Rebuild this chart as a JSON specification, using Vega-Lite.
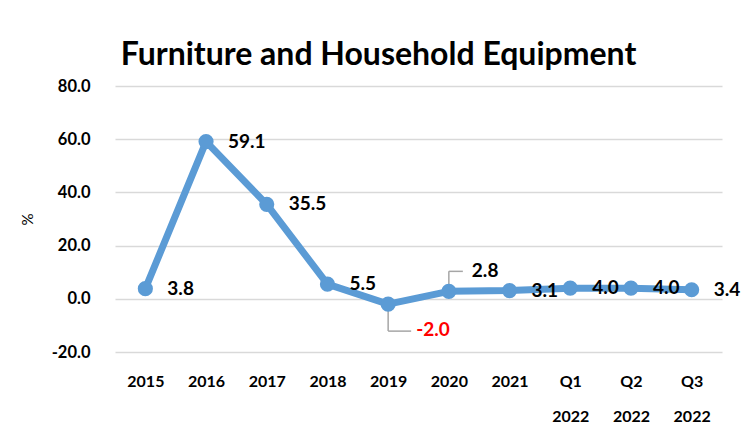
{
  "$schema": "https://vega.github.io/schema/vega-lite/v6.json",
  "autosize": {"type": "none"},
  "width": 607,
  "height": 266,
  "padding": {"left": 115, "top": 86, "right": 29, "bottom": 83},
  "background": "white",
  "title": {
    "text": "Furniture and Household Equipment",
    "font": "Lato",
    "fontSize": 32,
    "fontWeight": "bold",
    "color": "black",
    "anchor": "middle",
    "frame": "group",
    "dx": -40,
    "baseline": "alphabetic",
    "offset": -19
  },
  "data": {
    "values": [
      {"period": "2015", "value": 3.8},
      {"period": "2016", "value": 59.1},
      {"period": "2017", "value": 35.5},
      {"period": "2018", "value": 5.5},
      {"period": "2019", "value": -2.0},
      {"period": "2020", "value": 2.8},
      {"period": "2021", "value": 3.1},
      {"period": "Q1|2022", "value": 4.0},
      {"period": "Q2|2022", "value": 4.0},
      {"period": "Q3|2022", "value": 3.4}
    ]
  },
  "encoding": {
    "x": {
      "field": "period",
      "type": "ordinal",
      "sort": null,
      "scale": {"type": "point", "padding": 0.5, "domain": ["2015", "2016", "2017", "2018", "2019", "2020", "2021", "Q1|2022", "Q2|2022", "Q3|2022"]},
      "axis": {
        "title": null,
        "labelAngle": 0,
        "domain": false,
        "ticks": false,
        "grid": false,
        "labelPadding": 21,
        "labelFont": "Lato",
        "labelFontSize": 16,
        "labelFontWeight": "bold",
        "labelColor": "black",
        "labelLineHeight": 35,
        "labelExpr": "split(datum.label, '|')"
      }
    },
    "y": {
      "field": "value",
      "type": "quantitative",
      "scale": {"domain": [-20, 80], "nice": false, "zero": false},
      "axis": {
        "title": "%",
        "values": [-20, 0, 20, 40, 60, 80],
        "format": ".1f",
        "domain": false,
        "ticks": false,
        "labelPadding": 25,
        "labelFont": "Lato",
        "labelFontSize": 16.5,
        "labelFontWeight": "bold",
        "labelColor": "black",
        "gridColor": "#D9D9D9",
        "gridWidth": 1.5,
        "titleFont": "Lato",
        "titleFontSize": 15,
        "titleFontWeight": "normal",
        "titleColor": "black",
        "titlePadding": 16
      }
    }
  },
  "layer": [
    {
      "transform": [{"filter": "datum.period == '2019'"}],
      "mark": {"type": "rule", "color": "#A6A6A6", "strokeWidth": 1.5, "y2Offset": 27},
      "encoding": {"y2": {"field": "value"}}
    },
    {
      "transform": [{"filter": "datum.period == '2019'"}],
      "mark": {"type": "rule", "color": "#A6A6A6", "strokeWidth": 1.5, "x2Offset": 23, "yOffset": 27},
      "encoding": {"x2": {"field": "period"}}
    },
    {
      "transform": [{"filter": "datum.period == '2020'"}],
      "mark": {"type": "rule", "color": "#A6A6A6", "strokeWidth": 1.5, "y2Offset": -20},
      "encoding": {"y2": {"field": "value"}}
    },
    {
      "transform": [{"filter": "datum.period == '2020'"}],
      "mark": {"type": "rule", "color": "#A6A6A6", "strokeWidth": 1.5, "x2Offset": 14, "yOffset": -20},
      "encoding": {"x2": {"field": "period"}}
    },
    {
      "mark": {"type": "line", "color": "#5B9BD5", "strokeWidth": 7, "strokeJoin": "round", "strokeCap": "round"}
    },
    {
      "mark": {"type": "circle", "color": "#5B9BD5", "size": 230, "opacity": 1}
    },
    {
      "transform": [{"filter": "datum.period != '2019' && datum.period != '2020'"}],
      "mark": {"type": "text", "align": "left", "baseline": "middle", "dx": 22, "font": "Lato", "fontSize": 19, "fontWeight": "bold", "color": "black"},
      "encoding": {"text": {"field": "value", "type": "quantitative", "format": ".1f"}}
    },
    {
      "transform": [{"filter": "datum.period == '2019'"}],
      "mark": {"type": "text", "align": "left", "baseline": "middle", "dx": 28, "dy": 26, "font": "Lato", "fontSize": 19, "fontWeight": "bold", "color": "#FF0000"},
      "encoding": {"text": {"field": "value", "type": "quantitative", "format": ".1f"}}
    },
    {
      "transform": [{"filter": "datum.period == '2020'"}],
      "mark": {"type": "text", "align": "left", "baseline": "middle", "dx": 23, "dy": -20, "font": "Lato", "fontSize": 19, "fontWeight": "bold", "color": "black"},
      "encoding": {"text": {"field": "value", "type": "quantitative", "format": ".1f"}}
    }
  ],
  "config": {
    "view": {"stroke": null},
    "locale": {"number": {"decimal": ".", "thousands": ",", "grouping": [3], "currency": ["$", ""], "minus": "-"}}
  }
}
